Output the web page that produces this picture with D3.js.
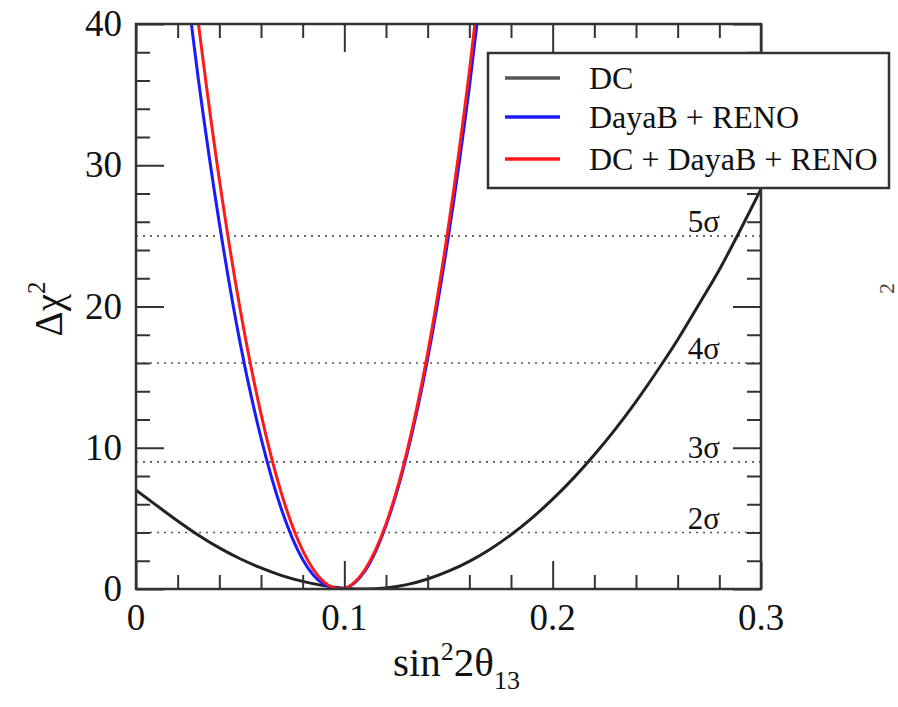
<!DOCTYPE html>
<html>
<head>
<meta charset="utf-8">
<script src="https://cdn.jsdelivr.net/npm/d3@7"></script>
<style>
  body { margin: 0; background: #fff; }
</style>
</head>
<body>
<svg id="chart" width="898" height="707" font-family="'Liberation Serif', 'Times New Roman', Times, 'DejaVu Serif', serif"></svg>
<script>
// Δχ² profiles versus sin²2θ13
const dcX = [0.00, 0.01, 0.02, 0.03, 0.04, 0.05, 0.06, 0.07, 0.08, 0.09, 0.10,
             0.11, 0.12, 0.13, 0.14, 0.15, 0.16, 0.17, 0.18, 0.19, 0.20,
             0.21, 0.22, 0.23, 0.24, 0.25, 0.26, 0.27, 0.28, 0.29, 0.30];
const dcChi2 = [7.0, 5.9, 4.82, 3.81, 2.91, 2.14, 1.49, 0.95, 0.54, 0.24, 0.06,
                0.0, 0.08, 0.31, 0.71, 1.26, 1.96, 2.82, 3.84, 5.02, 6.36,
                7.85, 9.5, 11.3, 13.27, 15.4, 17.65, 20.1, 22.6, 25.4, 28.3];

const fitX = [0.02, 0.03, 0.04, 0.05, 0.06, 0.07, 0.08, 0.09, 0.098,
              0.11, 0.12, 0.13, 0.14, 0.15, 0.16, 0.17];
const dayabRenoChi2 = [47.7, 36.0, 25.9, 17.4, 10.7, 5.56, 2.09, 0.35, 0.0,
                       1.3, 4.5, 9.5, 16.3, 25.0, 35.5, 47.8];
const combinedChi2 = [52.6, 40.0, 29.0, 19.8, 12.4, 6.68, 2.73, 0.52, 0.0,
                      1.4, 4.6, 9.7, 16.7, 25.7, 36.6, 49.4];

const sigmaLevels = [4, 9, 16, 25];
const sigmaLabels = ["2σ", "3σ", "4σ", "5σ"];

const xTickValues = [0, 0.1, 0.2, 0.3];
const yTickValues = [0, 10, 20, 30, 40];

const seriesNames = ["DC", "DayaB + RENO", "DC + DayaB + RENO"];
const seriesColors = ["#222222", "#1a1aff", "#ff1a1a"];

// ---- layout ----
const W = 898, H = 707;
const margin = { left: 136, right: 137, top: 24, bottom: 118 };
const x = d3.scaleLinear().domain([0, 0.3]).range([margin.left, W - margin.right]);
const y = d3.scaleLinear().domain([0, 40]).range([H - margin.bottom, margin.top]);

const svg = d3.select("#chart");
const axisColor = "#333";
const textColor = "#111";

svg.append("defs").append("clipPath").attr("id", "plotClip")
  .append("rect")
  .attr("x", x(0)).attr("y", y(40))
  .attr("width", x(0.3) - x(0)).attr("height", y(0) - y(40));

// dotted confidence levels
svg.append("g").selectAll("line").data(sigmaLevels).join("line")
  .attr("x1", x(0)).attr("x2", x(0.3))
  .attr("y1", d => y(d)).attr("y2", d => y(d))
  .attr("stroke", "#555").attr("stroke-width", 1.6)
  .attr("stroke-dasharray", "2,5");

// curves
const series = [
  { xs: dcX, ys: dcChi2, color: seriesColors[0] },
  { xs: fitX, ys: dayabRenoChi2, color: seriesColors[1] },
  { xs: fitX, ys: combinedChi2, color: seriesColors[2] }
];
const line = d3.line()
  .x(d => x(d[0])).y(d => y(d[1]))
  .curve(d3.curveMonotoneX);

svg.append("g").attr("clip-path", "url(#plotClip)")
  .selectAll("path").data(series).join("path")
  .attr("d", s => line(s.xs.map((v, i) => [v, s.ys[i]])))
  .attr("fill", "none")
  .attr("stroke", s => s.color)
  .attr("stroke-width", 3)
  .attr("stroke-linejoin", "round");

// axes: ticks on all four sides, pointing inward
const major = 28, minor = 14;
const xMinor = d3.range(0, 0.3001, 0.02).filter(v => Math.abs(v * 10 - Math.round(v * 10)) > 1e-6);
const yMinor = d3.range(0, 40.001, 2).filter(v => v % 10 !== 0);

function tickAxis(axisGen, translate) {
  const g = svg.append("g").attr("transform", translate).call(axisGen);
  g.select(".domain").remove();
  g.selectAll(".tick line").attr("stroke", axisColor).attr("stroke-width", 2);
  g.selectAll(".tick text").remove();
  return g;
}
const bx = `translate(0,${y(0)})`, tx = `translate(0,${y(40)})`;
const ly = `translate(${x(0)},0)`, ry = `translate(${x(0.3)},0)`;
tickAxis(d3.axisBottom(x).tickValues(xTickValues).tickSize(-major), bx);
tickAxis(d3.axisBottom(x).tickValues(xMinor).tickSize(-minor), bx);
tickAxis(d3.axisTop(x).tickValues(xTickValues).tickSize(-major), tx);
tickAxis(d3.axisTop(x).tickValues(xMinor).tickSize(-minor), tx);
tickAxis(d3.axisLeft(y).tickValues(yTickValues).tickSize(-major), ly);
tickAxis(d3.axisLeft(y).tickValues(yMinor).tickSize(-minor), ly);
tickAxis(d3.axisRight(y).tickValues(yTickValues).tickSize(-major), ry);
tickAxis(d3.axisRight(y).tickValues(yMinor).tickSize(-minor), ry);

// frame
svg.append("rect")
  .attr("x", x(0)).attr("y", y(40))
  .attr("width", x(0.3) - x(0)).attr("height", y(0) - y(40))
  .attr("fill", "none").attr("stroke", axisColor).attr("stroke-width", 2.5);

// tick labels
const tickFont = 37;
svg.append("g").selectAll("text").data(xTickValues).join("text")
  .attr("x", d => x(d)).attr("y", y(0) + 41)
  .attr("text-anchor", "middle").attr("font-size", tickFont).attr("fill", textColor)
  .text(d => d3.format("")(d));
svg.append("g").selectAll("text").data(yTickValues).join("text")
  .attr("x", x(0) - 14).attr("y", d => y(d) + 12)
  .attr("text-anchor", "end").attr("font-size", tickFont).attr("fill", textColor)
  .text(d => d);

// sigma labels
svg.append("g").selectAll("text").data(sigmaLevels).join("text")
  .attr("x", 720).attr("y", d => y(d) - 4)
  .attr("text-anchor", "end").attr("font-size", 31).attr("fill", textColor)
  .text((d, i) => sigmaLabels[i]);

// axis titles
const xt = svg.append("text")
  .attr("x", (x(0) + x(0.3)) / 2 + 8).attr("y", 676)
  .attr("text-anchor", "middle").attr("font-size", 41).attr("fill", textColor);
xt.append("tspan").text("sin");
xt.append("tspan").attr("dy", -16).attr("font-size", 26).text("2");
xt.append("tspan").attr("dy", 16).text("2θ");
xt.append("tspan").attr("dy", 13).attr("font-size", 26).text("13");

const yt = svg.append("text")
  .attr("transform", "translate(62,309) rotate(-90)")
  .attr("text-anchor", "middle").attr("font-size", 39).attr("fill", textColor);
yt.append("tspan").text("Δχ");
yt.append("tspan").attr("dy", -17).attr("font-size", 25).text("2");

// stray glyph at the right margin
svg.append("text")
  .attr("transform", "translate(894,294) rotate(-90)")
  .attr("font-size", 22).attr("fill", "#444").text("2");

// legend
const legend = svg.append("g");
legend.append("rect")
  .attr("x", 488).attr("y", 53).attr("width", 401).attr("height", 135)
  .attr("fill", "#fff").attr("stroke", axisColor).attr("stroke-width", 2.5);
const rowY = [78, 117, 159];
const rows = legend.selectAll("g.row").data(seriesNames).join("g").attr("class", "row");
rows.append("line")
  .attr("x1", 505).attr("x2", 560)
  .attr("y1", (d, i) => rowY[i]).attr("y2", (d, i) => rowY[i])
  .attr("stroke", (d, i) => i === 0 ? "#555" : seriesColors[i])
  .attr("stroke-width", 3.5);
rows.append("text")
  .attr("x", 589).attr("y", (d, i) => rowY[i] + 11)
  .attr("font-size", 32).attr("fill", textColor)
  .text(d => d);
</script>
</body>
</html>
